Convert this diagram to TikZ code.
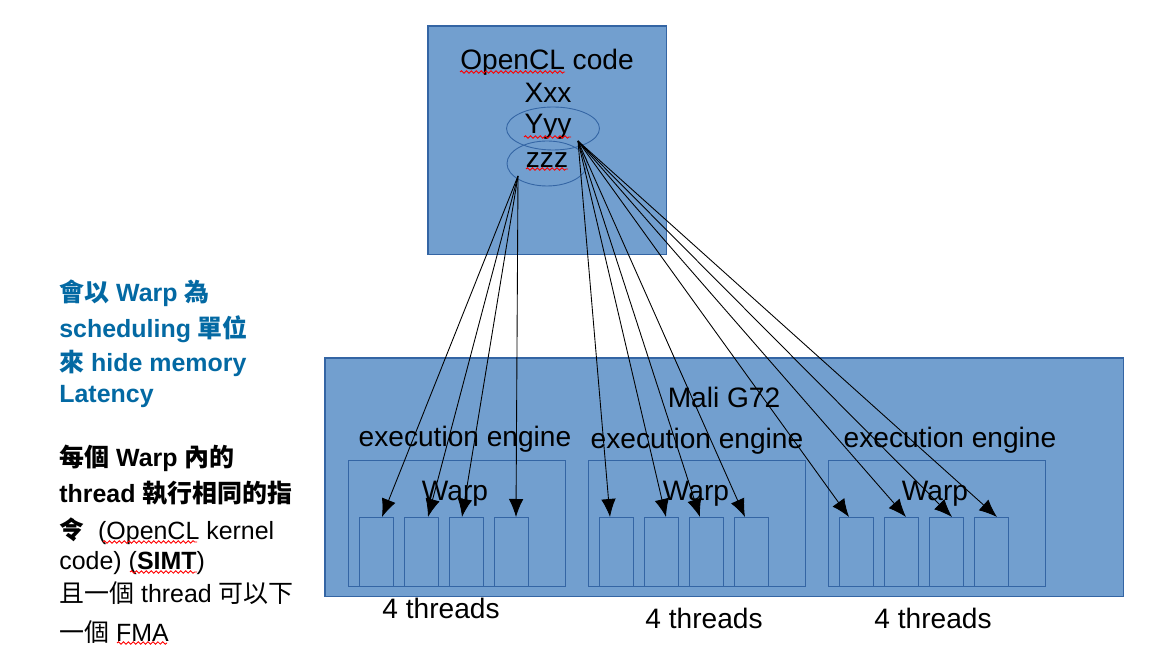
\documentclass[tikz,border=0pt]{standalone}
\usepackage{fontspec}
\setmainfont{Liberation Sans}
\newfontfamily\cjk{Noto Sans CJK TC}
\usetikzlibrary{calc, shapes, arrows.meta, decorations.pathmorphing}
\definecolor{boxfill}{HTML}{729FCF}
\definecolor{boxline}{HTML}{3465A4}
\definecolor{noteblue}{HTML}{0369A3}

\begin{document}
\begin{tikzpicture}[x=0.02cm, y=-0.02cm,
	lbl/.style={anchor=base, inner sep=0pt, font=\fontsize{16}{19}\selectfont},
	note/.style={anchor=base west, inner sep=0pt, font=\fontsize{14.2}{17}\selectfont},
	panel/.style={draw=boxline, fill=boxfill, line width=0.6pt, inner sep=0pt, outer sep=0pt, anchor=north west},
	engine/.style={draw=boxline, line width=0.5pt, inner sep=0pt, outer sep=0pt, anchor=north west,
		minimum width=4.34cm, minimum height=2.52cm},
	thread/.style={draw=boxline, line width=0.5pt, inner sep=0pt, outer sep=0pt, anchor=north west,
		minimum width=0.68cm, minimum height=1.38cm},
	stmt/.style={ellipse, draw=boxline, line width=0.5pt, inner sep=0pt},
	spell/.style={red, line width=0.5pt, decorate, decoration={snake, amplitude=0.7pt, segment length=2.8pt}},
	call/.style={-{Latex[length=0.36cm,width=0.29cm]}, line width=0.5pt}]
	\useasboundingbox (0,0) rectangle (1163,661);
	%OpenCL code box
	\node[panel, minimum width=4.78cm, minimum height=4.58cm] (code) at (428,26) {};
	\node[lbl] (title) at (547,70) {OpenCL code};
	\node[lbl] (xxx) at (548,103) {Xxx};
	\node[lbl] (yyy) at (548,134) {Yyy};
	\node[lbl] (zzz) at (547,168) {zzz};
	\node[stmt, minimum width=1.86cm, minimum height=0.86cm] (yring) at (553,128.5) {};
	\node[stmt, minimum width=1.6cm, minimum height=0.9cm] (zring) at (547,163.5) {};
	%Spell check marks
	\draw[spell] (460,72) -- (565,72);
	\draw[spell] (524,137) -- (571,137);
	\draw[spell] (526,169) -- (568,169);
	%Start of the arrows
	\coordinate (zs) at (518,176);
	\coordinate (ys) at (578,141);
	%Mali G72 box
	\node[panel, minimum width=15.98cm, minimum height=4.78cm] (gpu) at (325,358) {};
	\node[lbl] (mali) at (724,408) {Mali G72};
	\node[lbl] (ee1) at (465,447) {execution engine};
	\node[lbl] (ee2) at (697,449) {execution engine};
	\node[lbl] (ee3) at (950,448) {execution engine};
	\foreach \i in {1,2,3} {
		\node[engine] (eng\i) at (348+240*\i-240,460) {};
		\foreach \j in {1,...,4} {
			\node[thread] (t\i\j) at (359+240*\i-240+45*\j-45,517) {};
		}
	}
	\node[lbl] (warp1) at (455,501) {Warp};
	\node[lbl] (warp2) at (696,501) {Warp};
	\node[lbl] (warp3) at (935,501) {Warp};
	\node[lbl] (four1) at (441,619) {4 threads};
	\node[lbl] (four2) at (704,629) {4 threads};
	\node[lbl] (four3) at (933,629) {4 threads};
	%Arrows from zzz
	\draw[call] (zs) -- ([xshift=0.46cm]t11.north west);
	\draw[call] (zs) -- ([xshift=0.48cm]t12.north west);
	\draw[call] (zs) -- ([xshift=0.26cm]t13.north west);
	\draw[call] (zs) -- ([xshift=0.44cm]t14.north west);
	%Arrows from Yyy
	\draw[call] (ys) -- ([xshift=0.22cm]t21.north west);
	\draw[call] (ys) -- ([xshift=0.44cm]t22.north west);
	\draw[call] (ys) -- ([xshift=0.22cm]t23.north west);
	\draw[call] (ys) -- ([xshift=0.22cm]t24.north west);
	\draw[call] (ys) -- ([xshift=0.2cm]t31.north west);
	\draw[call] (ys) -- ([xshift=0.44cm]t32.north west);
	\draw[call] (ys) -- ([xshift=0.46cm]t33.north west);
	\draw[call] (ys) -- ([xshift=0.46cm]t34.north west);
	%Notes on the left
	\node[note, text=noteblue, font=\fontsize{14.2}{17}\selectfont\bfseries] (n1) at (59,302) {{\cjk 會以} Warp {\cjk 為}};
	\node[note, text=noteblue, font=\fontsize{14.2}{17}\selectfont\bfseries] (n2) at (59,338) {scheduling {\cjk 單位}};
	\node[note, text=noteblue, font=\fontsize{14.2}{17}\selectfont\bfseries] (n3) at (59,372) {{\cjk 來} hide memory};
	\node[note, text=noteblue, font=\fontsize{14.2}{17}\selectfont\bfseries] (n4) at (59,403) {Latency};
	\node[note, font=\fontsize{14.2}{17}\selectfont\bfseries] (n5) at (59,467) {{\cjk 每個} Warp {\cjk 內的}};
	\node[note, font=\fontsize{14.2}{17}\selectfont\bfseries] (n6) at (59,503) {thread {\cjk 執行相同的指}};
	\node[note] (n7) at (59,540) {{\cjk\bfseries 令}\ \ (OpenCL kernel};
	\node[note] (n8) at (59,570) {code) (\textbf{SIMT})};
	\node[note] (n9) at (59,603) {{\cjk 且一個} thread {\cjk 可以下}};
	\node[note] (n10) at (59,642) {{\cjk 一個} FMA};
	\draw[spell] (103,542) -- (197,542);
	\draw[spell] (130,572) -- (197,572);
	\draw[spell] (117,643) -- (167,643);
\end{tikzpicture}
\end{document}
